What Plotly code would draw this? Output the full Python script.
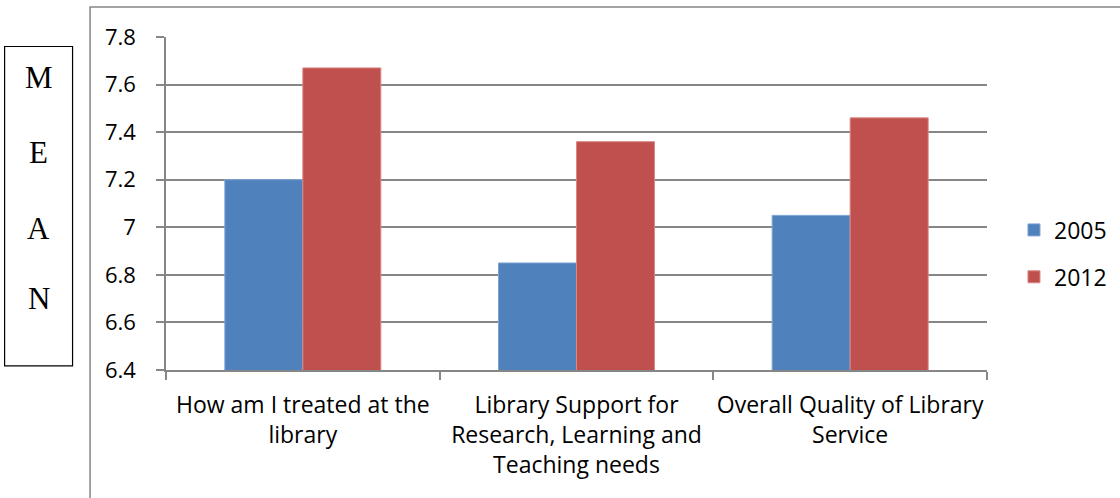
import plotly.graph_objects as go

# Survey means by question, 2005 vs 2012
categories = [
    "How am I treated at the<br>library",
    "Library Support for<br>Research, Learning and<br>Teaching needs",
    "Overall Quality of Library<br>Service",
]
years = ["2005", "2012"]
mean_2005 = [7.20, 6.85, 7.05]
mean_2012 = [7.67, 7.36, 7.46]
y_ticks = [6.4, 6.6, 6.8, 7.0, 7.2, 7.4, 7.6, 7.8]
y_tick_text = ["6.4", "6.6", "6.8", "7", "7.2", "7.4", "7.6", "7.8"]
side_letters = ["M", "E", "A", "N"]

W, H = 1120, 498
L, R, T, B = 165.5, 133, 36.5, 128.4
PW, PH = W - L - R, H - T - B


def px_x(x):
    return (x - L) / PW


def px_y(y):
    return (H - B - y) / PH


GRID = "#868686"
SANS = "Open Sans"
FS = 22

fig = go.Figure()
fig.add_trace(go.Bar(
    x=categories, y=mean_2005, name=years[0], legendgroup="a",
    marker=dict(color="#4F81BD", line=dict(color="#7FA3D3", width=1)),
))
fig.add_trace(go.Bar(
    x=categories, y=mean_2012, name=years[1], legendgroup="b",
    marker=dict(color="#C0504D", line=dict(color="#D98886", width=1)),
))

shapes = [
    # outer chart frame (runs off the right and bottom edges)
    dict(type="rect", xref="paper", yref="paper",
         x0=px_x(89.5), x1=px_x(1130), y0=px_y(510), y1=px_y(6.5),
         line=dict(color=GRID, width=1.5), layer="below"),
    # side box holding the vertical label
    dict(type="rect", xref="paper", yref="paper",
         x0=px_x(4), x1=px_x(72), y0=px_y(365.5), y1=px_y(46),
         line=dict(color="#000000", width=1.2)),
]

annotations = []
for letter, yc in zip(side_letters, [77, 152, 228, 298]):
    annotations.append(dict(
        text=letter, xref="paper", yref="paper", x=px_x(38), y=px_y(yc),
        xanchor="center", yanchor="middle", showarrow=False,
        font=dict(family="Liberation Serif", size=31, color="#000000"),
    ))

fig.update_layout(
    width=W, height=H,
    margin=dict(l=L, r=R, t=T, b=B, pad=0, autoexpand=False),
    paper_bgcolor="white", plot_bgcolor="white",
    barmode="group", bargap=0.43, bargroupgap=0,
    font=dict(family=SANS, size=FS, color="#000000"),
    shapes=shapes, annotations=annotations,
    legend=dict(
        x=px_x(1014), y=px_y(208), xanchor="left", yanchor="top",
        font=dict(family=SANS, size=FS + 1), tracegroupgap=14,
        bgcolor="rgba(0,0,0,0)", itemclick=False,
    ),
    xaxis=dict(
        showgrid=False, showline=True, linecolor=GRID, linewidth=1.5,
        ticks="outside", tickson="boundaries", ticklen=8, tickcolor=GRID,
        tickwidth=1.5, tickfont=dict(family=SANS, size=FS + 1),
        tickangle=0, automargin=False, ticklabelstandoff=14,
    ),
    yaxis=dict(
        range=[6.4, 7.8], tickvals=y_ticks, ticktext=y_tick_text,
        showgrid=True, gridcolor=GRID, gridwidth=1.5,
        showline=True, linecolor=GRID, linewidth=1.5,
        ticks="outside", ticklen=8, tickcolor=GRID, tickwidth=1.5,
        tickfont=dict(family=SANS, size=FS), zeroline=False,
        automargin=False, ticklabelstandoff=16,
    ),
)

fig.write_html("out.html")
